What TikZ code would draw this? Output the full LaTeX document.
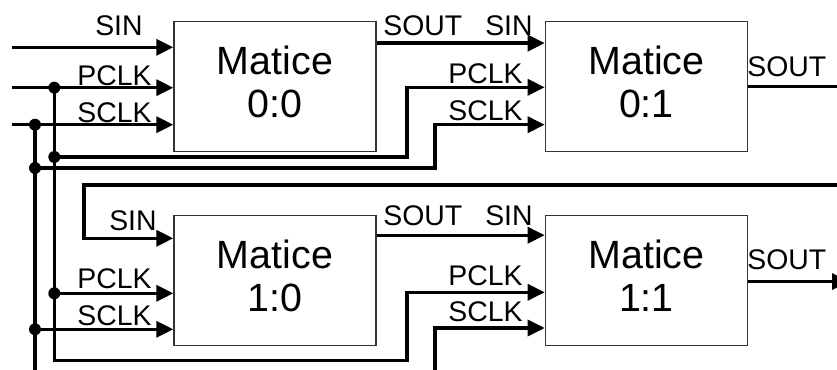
\documentclass[tikz,border=0pt]{standalone}
\usepackage{fontspec}
\setmainfont{Liberation Sans}
\usetikzlibrary{arrows.meta,positioning}

\begin{document}
\begin{tikzpicture}[x=0.5pt, y=-0.5pt, >={Triangle[length=8.5pt,width=8pt]},
  wire/.style={line width=1.7pt},
  cell/.style={draw=black!80, line width=0.7pt, minimum width=101pt, minimum height=65pt, align=center, inner sep=0pt, text depth=4.7pt, font=\fontsize{19.7}{21.5}\selectfont},
  pin/.style={inner sep=0pt, font=\fontsize{14.2}{16}\selectfont},
  dot/.style={circle, fill, inner sep=0pt, minimum size=6pt}]
  \useasboundingbox (0,0) rectangle (837,370);
  % cells
  \node[cell] (m00) at (275,86.2) {Matice\\0:0};
  \node[cell, right=84pt of m00] (m01) {Matice\\0:1};
  \node[cell, below=31.3pt of m00] (m10) {Matice\\1:0};
  \node[cell, right=84pt of m10] (m11) {Matice\\1:1};
  % free ends and bends
  \coordinate (in0) at (12,47.3);
  \coordinate (in1) at (12,87.7);
  \coordinate (in2) at (12,124.7);
  \coordinate (pj0) at (54.3,87.7);
  \coordinate (pj1) at (54.3,157);
  \coordinate (pj2) at (54.3,293.3);
  \coordinate (pc) at (54.3,360.7);
  \coordinate (sj0) at (35,124.7);
  \coordinate (sj1) at (35,168);
  \coordinate (sj2) at (35,329.3);
  \coordinate (send) at (35,372);
  \coordinate (pt0) at (407,87.3);
  \coordinate (st0) at (435,124.7);
  \coordinate (pt1) at (407,292.3);
  \coordinate (st1) at (435,328);
  \coordinate (sb1) at (435,372);
  \coordinate (fb0) at (839,185);
  \coordinate (fb1) at (84,238.3);
  \coordinate (edge) at (839,0);
  \coordinate (rim) at (849,0);
  % row 0
  \draw[wire,->] (in0) -- (in0 -| m00.west);
  \draw[wire,->] (in1) -- (in1 -| m00.west);
  \draw[wire,->] (in2) -- (in2 -| m00.west);
  \draw[wire,->] ([yshift=-11.3pt]m00.north east) -- ([yshift=-11.3pt]m01.north west);
  \draw[wire,->] (pj1) -| (pt0) -- (pt0 -| m01.west);
  \draw[wire,->] (sj1) -| (st0) -- (st0 -| m01.west);
  \draw[wire] (m01.east) -- (m01.east -| edge);
  % feedback to row 1
  \draw[wire,->] (fb0) -| (fb1) -- (fb1 -| m10.west);
  % row 1
  \draw[wire] (sj0) -- (send);
  \draw[wire,->] (pj0) -- (pc) -| (pt1) -- (pt1 -| m11.west);
  \draw[wire,->] (pj2) -- (pj2 -| m10.west);
  \draw[wire,->] (sj2) -- (sj2 -| m10.west);
  \draw[wire,->] ([yshift=-10.35pt]m10.north east) -- ([yshift=-10.35pt]m11.north west);
  \draw[wire,->] (sb1) -- (st1) -- (st1 -| m11.west);
  \draw[wire,->] ([yshift=-0.7pt]m11.east) -- ([yshift=-0.7pt]m11.east -| rim);
  % junctions
  \node[dot] (d0) at (pj0) {};
  \node[dot] (d1) at (pj1) {};
  \node[dot] (d2) at (pj2) {};
  \node[dot] (d3) at (sj0) {};
  \node[dot] (d4) at (sj1) {};
  \node[dot] (d5) at (sj2) {};
  % pin labels
  \node[pin, anchor=base east] (l00s) at (143,35) {SIN};
  \node[pin, anchor=base east] (l00p) at (152,85) {PCLK};
  \node[pin, anchor=base east] (l00c) at (152,122) {SCLK};
  \node[pin, anchor=base west] (l00o) at (383,35) {SOUT};
  \node[pin, anchor=base east] (l01s) at (533,35) {SIN};
  \node[pin, anchor=base east] (l01p) at (523,83) {PCLK};
  \node[pin, anchor=base east] (l01c) at (523,120) {SCLK};
  \node[pin, anchor=base west] (l01o) at (747,76.7) {SOUT};
  \node[pin, anchor=base east] (l10s) at (157,230) {SIN};
  \node[pin, anchor=base east] (l10p) at (152,288) {PCLK};
  \node[pin, anchor=base east] (l10c) at (152,325) {SCLK};
  \node[pin, anchor=base west] (l10o) at (383,225) {SOUT};
  \node[pin, anchor=base east] (l11s) at (533,225) {SIN};
  \node[pin, anchor=base east] (l11p) at (523,285) {PCLK};
  \node[pin, anchor=base east] (l11c) at (523,321.7) {SCLK};
  \node[pin, anchor=base west] (l11o) at (747,269) {SOUT};
\end{tikzpicture}
\end{document}
